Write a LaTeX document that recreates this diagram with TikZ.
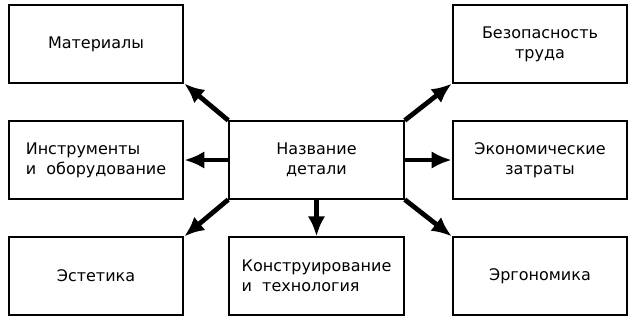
\documentclass[tikz,border=0pt]{standalone}
\usepackage{fontspec}
\setmainfont{DejaVu Sans}
\usetikzlibrary{arrows.meta}

\tikzset{
    factor/.style={draw, line width=1.4pt, minimum width=131pt, minimum height=58pt,
        inner sep=0pt, font=\fontsize{12}{15}\selectfont},
    link/.style={line width=3.6pt, -{Latex[length=15pt, width=13pt]}}
}

\begin{document}
\begin{tikzpicture}[x=0.75pt, y=-0.75pt]
    \useasboundingbox (0, 0) rectangle (636, 325);
    % central node
    \node[factor, align=center] (detail) at (316.5, 160) {Название\\детали};
    % left column
    \node[factor, align=center] (materials) at (96, 44) {Материалы};
    \node[factor, align=left] (tools) at (96, 160) {Инструменты\\и\ \ оборудование};
    \node[factor, align=center] (aesthetics) at (96, 276) {Эстетика};
    % bottom
    \node[factor, align=left] (design) at (316.5, 276) {Конструирование\\и\ \ технология};
    % right column
    \node[factor, align=center] (safety) at (540, 44) {Безопасность\\труда};
    \node[factor, align=center] (costs) at (540, 160) {Экономические\\затраты};
    \node[factor, align=center] (ergonomics) at (540, 276) {Эргономика};
    % arrows
    \draw[link] (detail.north west) -- (materials.south east);
    \draw[link] (detail.west) -- (tools.east);
    \draw[link] (detail.south west) -- (aesthetics.north east);
    \draw[link] (detail.south) -- (design.north);
    \draw[link] (detail.north east) -- (safety.south west);
    \draw[link] (detail.east) -- (costs.west);
    \draw[link] (detail.south east) -- (ergonomics.north west);
\end{tikzpicture}
\end{document}
